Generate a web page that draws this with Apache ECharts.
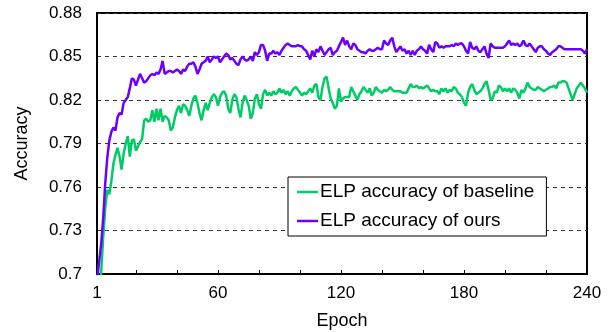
<!DOCTYPE html>
<html>
<head>
<meta charset="utf-8">
<script src="https://cdn.jsdelivr.net/npm/echarts@6/dist/echarts.min.js"></script>
<style>
html,body{margin:0;padding:0;background:#fff;}
#chart{width:609px;height:332px;}
</style>
</head>
<body>
<div id="chart"></div>
<script>
const seriesNames = ["ELP accuracy of baseline", "ELP accuracy of ours"];
const xTickLabels = [1, 60, 120, 180, 240];
const xTickMarks = [1, 20, 40, 60, 80, 100, 120, 140, 160, 180, 200, 220, 240];
const yTickLabels = [0.7, 0.73, 0.76, 0.79, 0.82, 0.85, 0.88];

const baseline = [
0.64, 0.67, 0.70, 0.725, 0.745, 0.758, 0.755, 0.764, 0.776, 0.782,
0.787, 0.781, 0.772, 0.783, 0.79, 0.795, 0.781, 0.792, 0.793, 0.785,
0.788, 0.791, 0.793, 0.806, 0.807, 0.805, 0.806, 0.813, 0.805, 0.814,
0.806, 0.814, 0.805, 0.809, 0.808, 0.806, 0.799, 0.801, 0.808, 0.813,
0.816, 0.811, 0.817, 0.816, 0.813, 0.809, 0.816, 0.821, 0.823, 0.818,
0.811, 0.806, 0.813, 0.818, 0.813, 0.818, 0.822, 0.824, 0.822, 0.816,
0.822, 0.825, 0.826, 0.823, 0.814, 0.811, 0.82, 0.824, 0.822, 0.814,
0.808, 0.818, 0.823, 0.82, 0.816, 0.807, 0.811, 0.821, 0.824, 0.817,
0.814, 0.824, 0.827, 0.823, 0.825, 0.823, 0.826, 0.824, 0.825, 0.828,
0.825, 0.827, 0.824, 0.826, 0.823, 0.826, 0.828, 0.829, 0.827, 0.825,
0.823, 0.825, 0.824, 0.826, 0.828, 0.825, 0.83, 0.831, 0.822, 0.82,
0.829, 0.835, 0.836, 0.828, 0.821, 0.818, 0.814, 0.816, 0.828, 0.819,
0.821, 0.822, 0.822, 0.822, 0.829, 0.826, 0.823, 0.82, 0.824, 0.826,
0.829, 0.827, 0.825, 0.828, 0.823, 0.825, 0.829, 0.827, 0.826, 0.825,
0.827, 0.826, 0.827, 0.829, 0.827, 0.826, 0.826, 0.826, 0.826, 0.825,
0.825, 0.825, 0.828, 0.831, 0.829, 0.829, 0.83, 0.828, 0.829, 0.828,
0.829, 0.83, 0.828, 0.826, 0.827, 0.826, 0.826, 0.824, 0.828, 0.826,
0.828, 0.825, 0.827, 0.826, 0.829, 0.828, 0.825, 0.824, 0.822, 0.818,
0.816, 0.825, 0.829, 0.831, 0.827, 0.824, 0.825, 0.826, 0.828, 0.831,
0.833, 0.827, 0.82, 0.821, 0.826, 0.825, 0.83, 0.829, 0.826, 0.828,
0.826, 0.828, 0.825, 0.828, 0.827, 0.825, 0.821, 0.827, 0.825, 0.828,
0.832, 0.829, 0.828, 0.827, 0.827, 0.829, 0.828, 0.827, 0.826, 0.827,
0.828, 0.829, 0.829, 0.83, 0.828, 0.832, 0.832, 0.833, 0.833, 0.832,
0.828, 0.824, 0.82, 0.824, 0.828, 0.83, 0.832, 0.83, 0.828, 0.825
];

const ours = [
0.695, 0.708, 0.72, 0.738, 0.762, 0.78, 0.792, 0.798, 0.801, 0.799,
0.808, 0.811, 0.81, 0.818, 0.82, 0.822, 0.828, 0.835, 0.834, 0.83,
0.834, 0.838, 0.835, 0.832, 0.833, 0.835, 0.837, 0.838, 0.837, 0.839,
0.838, 0.841, 0.847, 0.838, 0.839, 0.84, 0.84, 0.839, 0.84, 0.841,
0.840, 0.838, 0.841, 0.840, 0.843, 0.845, 0.845, 0.846, 0.843, 0.838,
0.841, 0.845, 0.846, 0.847, 0.85, 0.846, 0.848, 0.85, 0.849, 0.85,
0.846, 0.848, 0.85, 0.852, 0.851, 0.848, 0.849, 0.847, 0.845, 0.844,
0.848, 0.85, 0.848, 0.847, 0.848, 0.85, 0.847, 0.853, 0.851, 0.853,
0.858, 0.858, 0.854, 0.847, 0.852, 0.852, 0.854, 0.852, 0.853, 0.851,
0.854, 0.856, 0.858, 0.859, 0.858, 0.857, 0.857, 0.857, 0.858, 0.857,
0.857, 0.855, 0.854, 0.851, 0.848, 0.854, 0.85, 0.855, 0.853, 0.857,
0.854, 0.851, 0.853, 0.855, 0.856, 0.851, 0.853, 0.854, 0.857, 0.86,
0.863, 0.858, 0.861, 0.857, 0.855, 0.859, 0.858, 0.855, 0.854, 0.853,
0.853, 0.852, 0.854, 0.855, 0.854, 0.854, 0.855, 0.856, 0.855, 0.855,
0.861, 0.859, 0.858, 0.861, 0.863, 0.857, 0.853, 0.855, 0.857, 0.854,
0.855, 0.852, 0.854, 0.851, 0.854, 0.851, 0.854, 0.855, 0.857, 0.855,
0.854, 0.852, 0.858, 0.855, 0.853, 0.86, 0.859, 0.856, 0.857, 0.856,
0.857, 0.857, 0.857, 0.858, 0.857, 0.859, 0.858, 0.859, 0.859, 0.857,
0.854, 0.852, 0.86, 0.856, 0.855, 0.857, 0.854, 0.853, 0.855, 0.857,
0.852, 0.849, 0.859, 0.857, 0.856, 0.856, 0.856, 0.856, 0.856, 0.857,
0.859, 0.861, 0.858, 0.859, 0.858, 0.859, 0.857, 0.858, 0.861, 0.858,
0.857, 0.859, 0.857, 0.855, 0.853, 0.856, 0.857, 0.857, 0.855, 0.854,
0.852, 0.851, 0.853, 0.854, 0.855, 0.857, 0.857, 0.856, 0.855, 0.855,
0.855, 0.855, 0.855, 0.855, 0.855, 0.855, 0.855, 0.854, 0.852, 0.855
];

const colors = ["#00CC66", "#6B00FF"];
const FONT = "Liberation Sans";

function toPairs(arr) { return arr.map((v, i) => [i + 1, v]); }

const chart = echarts.init(document.getElementById('chart'), null, {renderer: 'canvas'});
chart.setOption({
  animation: false,
  backgroundColor: '#fff',
  textStyle: {fontFamily: FONT, color: '#000'},
  grid: {left: 97, right: 22, top: 13, bottom: 58, show: true, borderColor: '#000', borderWidth: 2,
         backgroundColor: 'transparent', containLabel: false, outerBoundsMode: 'none'},
  xAxis: {
    type: 'value', min: 1, max: 240,
    name: 'Epoch', nameLocation: 'middle', nameGap: 38,
    nameTextStyle: {fontFamily: FONT, fontSize: 18, color: '#000'},
    axisLine: {show: true, lineStyle: {color: '#000', width: 2}},
    axisTick: {show: true, inside: true, length: 4, lineStyle: {color: '#000', width: 1}, customValues: xTickMarks},
    axisLabel: {customValues: xTickLabels, fontFamily: FONT, fontSize: 17, color: '#000', margin: 11},
    splitLine: {show: false}
  },
  yAxis: {
    type: 'value', min: 0.7, max: 0.88,
    name: 'Accuracy', nameLocation: 'middle', nameGap: 66, nameRotate: 90,
    nameTextStyle: {fontFamily: FONT, fontSize: 18, color: '#000'},
    axisLine: {show: true, lineStyle: {color: '#000', width: 2}},
    axisTick: {show: false, customValues: yTickLabels},
    axisLabel: {customValues: yTickLabels, fontFamily: FONT, fontSize: 17, color: '#000', margin: 15},
    splitLine: {show: true, lineStyle: {color: '#333', width: 1, type: [4, 4]}}
  },
  legend: {
    orient: 'vertical', left: 288, top: 177,
    backgroundColor: '#fff', borderColor: '#000', borderWidth: 1,
    padding: [5, 12, 5, 9], itemGap: 9,
    icon: 'rect', itemWidth: 21, itemHeight: 2.5,
    textStyle: {fontFamily: FONT, fontSize: 19, color: '#000', lineHeight: 20, padding: [0, 0, 0, -3]},
    data: seriesNames
  },
  series: [
    {name: seriesNames[0], type: 'line', data: toPairs(baseline), showSymbol: false, symbol: 'none',
     lineStyle: {color: colors[0], width: 2.5}, itemStyle: {color: colors[0]}, clip: true},
    {name: seriesNames[1], type: 'line', data: toPairs(ours), showSymbol: false, symbol: 'none',
     lineStyle: {color: colors[1], width: 2.5}, itemStyle: {color: colors[1]}, clip: true}
  ]
});
</script>
</body>
</html>
